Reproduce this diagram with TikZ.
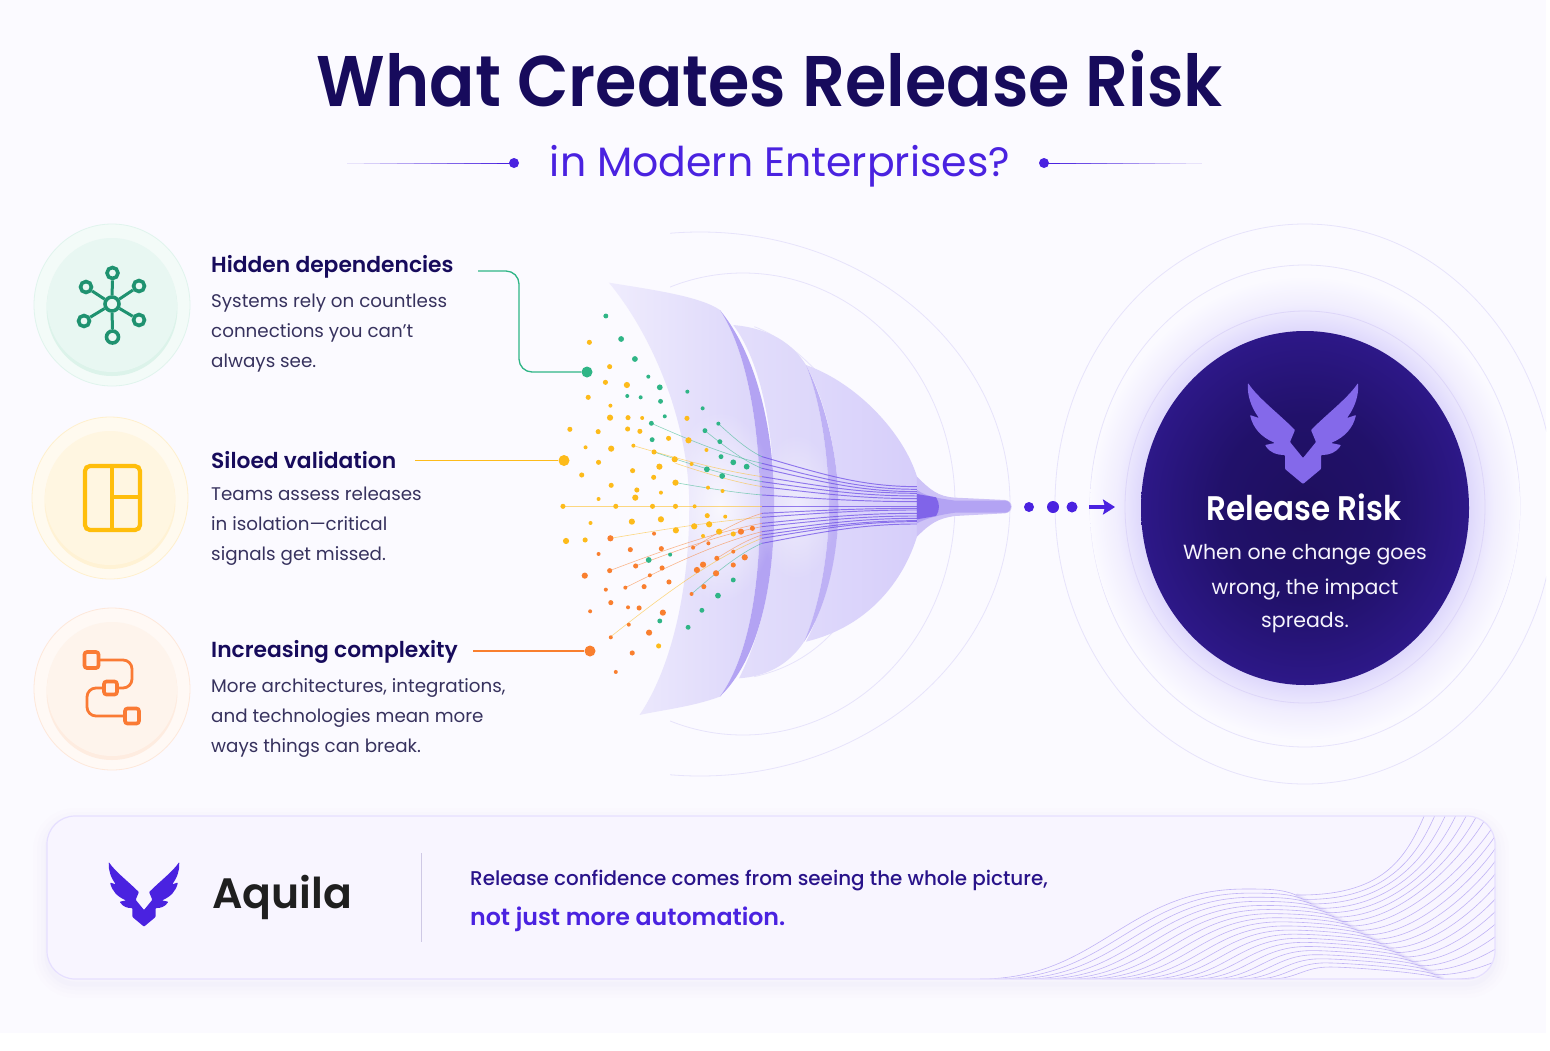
\documentclass[tikz,border=0pt]{standalone}
\usepackage{fontspec}
\usepackage{graphicx}
\setmainfont{Poppins}
\newfontfamily\psemi{Poppins SemiBold}
\newfontfamily\pmed{Poppins Medium}
\usetikzlibrary{arrows.meta,calc,fadings}
\definecolor{bgc}{HTML}{FBFAFF}
\definecolor{ink}{HTML}{170B5C}
\definecolor{bodyc}{HTML}{37325E}
\definecolor{vio}{HTML}{4A22E0}
\definecolor{viol}{HTML}{B3A3F3}
\definecolor{ringc}{HTML}{E7E3FB}
\definecolor{grn}{HTML}{1F9270}
\definecolor{grnd}{HTML}{2FB586}
\definecolor{yel}{HTML}{FDBB1B}
\definecolor{yeli}{HTML}{FFBE0B}
\definecolor{org}{HTML}{F97F2F}
\definecolor{orgd}{HTML}{FA7A34}
\definecolor{da}{HTML}{1E0F5E}
\definecolor{db}{HTML}{21116A}
\definecolor{dc}{HTML}{2D1888}
\definecolor{ga}{HTML}{C9BEFA}
\definecolor{gb}{HTML}{DED8FC}
\definecolor{gc}{HTML}{F1EEFE}
\definecolor{panelc}{HTML}{F8F5FF}
\definecolor{paneld}{HTML}{E6DFFF}
\definecolor{l1a}{HTML}{EFECFD}
\definecolor{l1b}{HTML}{DCD6FA}
\definecolor{l2a}{HTML}{E3DEFB}
\definecolor{l2b}{HTML}{DCD6FA}
\definecolor{l3a}{HTML}{DFD9FB}
\definecolor{l3b}{HTML}{D6CEFA}
\pgfdeclareradialshading{discS}{\pgfpoint{0bp}{0bp}}{color(0bp)=(da);color(13bp)=(db);color(25bp)=(dc);color(50bp)=(dc)}
\pgfdeclareradialshading{glowS}{\pgfpoint{0bp}{0bp}}{color(0bp)=(ga);color(19bp)=(gb);color(22bp)=(gc);color(25bp)=(bgc);color(50bp)=(bgc)}
\pgfdeclareradialshading{softS}{\pgfpoint{0bp}{0bp}}{color(0bp)=(white);color(24bp)=(black);color(50bp)=(black)}
\pgfdeclarefading{softout}{\pgfuseshading{softS}}
\tikzset{
  x=1pt,y=-1pt,
  titletxt/.style={anchor=west,inner sep=0pt,text=ink,font=\fontsize{21.8}{26}\psemi},
  bodytxt/.style={anchor=west,inner sep=0pt,text=bodyc,align=left,font=\fontsize{18.3}{30}\selectfont},
  ring/.style={draw=ringc,line width=.8pt},
  netnode/.style={circle,draw=grn,line width=3.6pt,fill=grnd!10!white,inner sep=0pt,minimum size=#1},
  flowbox/.style={draw=orgd,line width=3.6pt,rounded corners=2.5pt,fill=#1,inner sep=0pt},
  flowline/.style={draw=orgd,line width=2.8pt,rounded corners=9pt},
  subdot/.style={circle,fill=vio,inner sep=0pt,minimum size=10pt},
  enddot/.style={circle,fill=#1,inner sep=0pt,minimum size=11pt},
  flowdot/.style={circle,fill=vio,inner sep=0pt,minimum size=#1},
  wave/.style={draw=viol,line width=.6pt,opacity=.8},
}
\newcommand{\eaglelogo}[4]{%
\begin{scope}[shift={(#1,#2)},x=#3pt,y=-#3pt]
\fill[#4,rounded corners=.8pt] (0,75) -- (-13,59) -- (-8,47)
 .. controls (-25,30) and (-45,15) .. (-55,0)
 .. controls (-56,12) and (-52,24) .. (-44,35) -- (-53,32)
 .. controls (-50,45) and (-42,54) .. (-28,60) -- (-38,62)
 .. controls (-33,70) and (-26,72) .. (-18,72) -- (-18,86) -- (0,101)
 -- (18,86) -- (18,72)
 .. controls (26,72) and (33,70) .. (38,62) -- (28,60)
 .. controls (42,54) and (50,45) .. (53,32) -- (44,35)
 .. controls (52,24) and (56,12) .. (55,0)
 .. controls (45,15) and (25,30) .. (8,47) -- (13,59) -- cycle;
\end{scope}}
\newcommand{\badge}[6]{% cx cy outer-fill edge inner-fill shade
\fill[#3,draw=#4,line width=.8pt] (#1,#2) ellipse [x radius=78,y radius=81];
\fill[#6] (#1,#2+3) ellipse [x radius=65.5,y radius=68];
\fill[#5] (#1,#2) ellipse [x radius=65,y radius=67];
}
\newcommand{\fadeline}[3]{% from, to, colour: fades in from the first end
\foreach \t [evaluate=\t as \u using \t+.1, evaluate=\t as \o using (\t+.1)] in {0,.1,...,.95}
  {\draw[#3,line width=.9pt,opacity=\o] ($(#1)!\t!(#2)$) -- ($(#1)!\u!(#2)$);}
}
\begin{document}
\begin{tikzpicture}
\useasboundingbox (0,0) rectangle (1550,1050);
\fill[white] (0,0) rectangle (1550,1050);
\fill[bgc] (0,0) rectangle (1546,1033);
\begin{scope}
\clip (0,0) rectangle (1546,1033);
\draw[ring] (1305,504) ellipse [x radius=250,y radius=280];
\draw[ring] (1305,506) ellipse [x radius=215,y radius=241];
\shade[shading=glowS] (1305,508) ellipse [x radius=215,y radius=232];
\draw[ring,draw=ringc!80!viol] (1305,507) ellipse [x radius=180,y radius=196];
\end{scope}
\begin{scope}
\clip (670,200) rectangle (1100,800);
\draw[ring] (700,504) ellipse [x radius=310,y radius=272];
\draw[ring] (743,504) ellipse [x radius=212,y radius=231];
\end{scope}
% ---- funnel, zoom units
\begin{scope}[shift={(540,260)},x=.3827pt,y=-.3333pt]
 \draw[ring] (560,200) .. controls (700,260) and (880,500) .. (880,740) .. controls (880,1000) and (760,1200) .. (560,1250);
 % dome and neck
 \shade[left color=l3a,right color=l3b] (695,315) .. controls (830,370) and (950,520) .. (985,650) -- (985,830) .. controls (950,960) and (860,1100) .. (695,1145) .. controls (760,1000) and (780,850) .. (780,740) .. controls (780,600) and (750,430) .. (695,315) -- cycle;
 \fill[viol!65!white] (985,650) .. controls (1020,690) and (1040,710) .. (1085,713) -- (1215,720) .. controls (1238,722) and (1238,758) .. (1215,760) -- (1085,768) .. controls (1040,775) and (1020,790) .. (985,830) -- cycle;
 \fill[viol] (985,690) .. controls (1010,710) and (1040,715) .. (1085,722) -- (1215,722) .. controls (1236,724) and (1236,756) .. (1215,758) -- (1085,758) .. controls (1040,765) and (1010,775) .. (985,790) -- cycle;
 \fill[vio!70!white] (985,702) -- (1035,712) .. controls (1045,730) and (1045,750) .. (1035,768) -- (985,778) -- cycle;
 % second layer
 \shade[left color=l2a,right color=l2b] (505,195) .. controls (600,205) and (660,250) .. (695,315) .. controls (735,430) and (755,600) .. (755,740) .. controls (755,880) and (730,1040) .. (690,1145) .. controls (650,1215) and (590,1250) .. (520,1255) .. controls (580,1120) and (612,950) .. (612,740) .. controls (612,520) and (580,310) .. (505,195) -- cycle;
 \fill[viol!85!white] (695,315) .. controls (750,440) and (780,600) .. (780,740) .. controls (780,880) and (750,1040) .. (690,1145) .. controls (730,1040) and (755,880) .. (755,740) .. controls (755,600) and (735,430) .. (695,315) -- cycle;
 % first layer
 \shade[left color=l1a,right color=l1b] (180,68) .. controls (300,90) and (420,110) .. (470,150) .. controls (540,270) and (575,500) .. (575,740) .. controls (575,1000) and (540,1200) .. (470,1310) .. controls (400,1340) and (320,1350) .. (260,1365) .. controls (340,1230) and (390,1000) .. (390,740) .. controls (390,480) and (290,220) .. (180,68) -- cycle;
 \fill[viol] (470,150) .. controls (570,290) and (612,520) .. (612,740) .. controls (612,980) and (570,1200) .. (470,1310) .. controls (540,1200) and (575,1000) .. (575,740) .. controls (575,500) and (540,270) .. (470,150) -- cycle;
 % soft light where the threads run
 \fill[white,path fading=softout,opacity=.8] (470,740) ellipse [x radius=150,y radius=300];
 \fill[white,path fading=softout,opacity=.5] (670,740) ellipse [x radius=110,y radius=230];
 % converging threads
 \foreach \sx/\sy/\mx/\my/\ex/\ey/\c in {
   291/490/580/610/985/688/grnd, 244/557/580/650/985/700/yel, 298/576/580/665/985/708/grnd,
   354/668/580/705/985/725/grnd, 431/512/580/625/985/695/grnd, 60/739/580/739/985/739/yel,
   184/835/580/772/985/750/yel, 182/932/580/790/985/760/org, 250/918/580/800/985/768/org,
   223/983/580/815/985/775/org, 185/1130/580/835/985/785/yel, 396/1002/580/850/985/792/grnd,
   466/491/580/590/985/680/grnd, 400/863/580/760/985/745/org, 354/610/580/680/985/716/yel,
   462/895/580/825/985/782/org}
 {
   \draw[\c,line width=.6pt,opacity=.55] (\sx,\sy) .. controls ({\sx+(\mx-\sx)*.33},{\sy+(\my-\sy)*.4}) and ({\mx-(\mx-\sx)*.33},{\my-(\my-\sy)*.2}) .. (\mx,\my);
   \draw[vio!70!viol,line width=.95pt,opacity=.7] (\mx,\my) .. controls ({\mx+150},{\my+(\ey-\my)*.55}) and ({\ex-150},\ey) .. (\ex,\ey);
 }
 % dots
 \foreach \x/\y in {172/168,212/237,248/297,283/350,313/382,228/408,263/412,315/424,326/469,291/490,293/539,385/395,425/445,466/491,431/512,470/545,473/590,436/628,505/607,540/620,476/648,284/900,340/884,505/960,465/1007,423/1051,387/1102,313/1083}
   {\pgfmathsetmacro\r{2+mod(\x+\y,3)*.45}\fill[grnd] (\x,\y) circle [radius=\r pt];}
 \foreach \x/\y in {129/247,182/320,227/375,171/367,126/412,184/437,183/473,230/473,267/474,78/508,152/515,229/507,261/514,336/535,388/541,244/557,186/566,119/562,298/576,352/598,396/612,153/607,312/620,242/632,109/645,297/652,354/668,439/683,477/693,186/676,253/690,316/698,249/713,153/717,60/739,198/739,294/739,354/739,404/739,240/785,132/789,316/778,437/767,484/770,68/843,118/840,403/799,442/793,355/811,384/475,435/570,426/828,468/815,505/822,310/1158}
   {\pgfmathsetmacro\r{2+mod(\x+\y,3)*.55}\fill[yel] (\x,\y) circle [radius=\r pt];}
 \foreach \x/\y in {184/835,298/821,236/869,153/882,317/866,400/863,440/850,462/895,250/918,182/932,319/924,426/914,410/930,117/947,287/946,337/966,223/983,272/980,172/989,185/1028,131/1054,230/1042,259/1044,321/1058,232/1094,285/1118,185/1132,241/1179,198/1236,396/1002,428/980,505/875,535/892,555/805,525/815,505/915,460/940}
   {\pgfmathsetmacro\r{2+mod(\x+\y,3)*.55}\fill[org] (\x,\y) circle [radius=\r pt];}
\end{scope}
% ---- title
\node[inner sep=0pt,text=ink] (title) at (770,79) {\scalebox{1}[1.07]{\fontsize{67}{76}\psemi What Creates Release Risk}};
\node[inner sep=0pt,text=vio] (subtitle) at (780,166) {\fontsize{41}{46}\selectfont in Modern Enterprises?};
\node[subdot] (sdl) at (514,163) {};
\node[subdot] (sdr) at (1044,163) {};
\coordinate (sll) at (347,163);
\coordinate (slr) at (1202,163);
\fadeline{sll}{sdl}{vio}
\fadeline{slr}{sdr}{vio}
% ---- badges
\badge{112}{305}{grnd!6!white}{grnd!15!white}{grnd!11!white}{grnd!17!white}
\badge{110}{498}{yel!7!white}{yel!22!white}{yel!13!white}{yel!19!white}
\badge{112}{689}{org!5!white}{org!18!white}{org!9!white}{org!15!white}
% network icon
\node[netnode=14pt] (nc) at (112,304) {};
\node[netnode=11pt] (n1) at (112.5,273) {};
\node[netnode=11pt] (n2) at (86,287) {};
\node[netnode=11pt] (n3) at (139,286) {};
\node[netnode=11pt] (n4) at (84,321) {};
\node[netnode=11pt] (n5) at (139,320) {};
\node[netnode=12pt] (n6) at (112.5,337) {};
\foreach \n in {n1,n2,n3,n4,n5,n6} \draw[grn,line width=3pt] (nc) -- (\n);
% grid icon
\draw[yeli,line width=4.2pt,rounded corners=5pt] (85,466) rectangle (140,530);
\draw[yeli,line width=3.8pt] (112,466) -- (112,530) (112,497) -- (140,497);
% flow icon
\draw[flowline] (92,660) -- (132,660) -- (132,688) -- (110,688);
\draw[flowline] (110,688) -- (87,688) -- (87,716) -- (132,716);
\node[flowbox=orgd!10!white,minimum width=14pt,minimum height=16pt] (f1) at (91.5,660) {};
\node[flowbox=orgd!10!white,minimum width=13pt,minimum height=13pt] (f2) at (110.5,688) {};
\node[flowbox=orgd!10!white,minimum width=14pt,minimum height=15pt] (f3) at (132,716) {};
% ---- text
\node[titletxt] (h1) at (211,267) {Hidden dependencies};
\node[bodytxt] (b1) at (211,333) {Systems rely on countless\\connections you can’t\\always see.};
\node[titletxt] (h2) at (211,460) {Siloed validation};
\node[bodytxt] (b2) at (211,526) {Teams assess releases\\in isolation—critical\\signals get missed.};
\node[titletxt] (h3) at (211,652) {Increasing complexity};
\node[bodytxt] (b3) at (211,718) {More architectures, integrations,\\and technologies mean more\\ways things can break.};
% ---- connectors
\node[enddot=grnd] (d1) at (587,372) {};
\node[enddot=yel] (d2) at (564,460.5) {};
\node[enddot=org] (d3) at (590,651) {};
\coordinate (c1) at (478,271);
\coordinate (c2) at (415,460.5);
\coordinate (c3) at (473,651);
\draw[grnd,line width=1.3pt,rounded corners=13pt] (c1) -| (519,330) |- (d1);
\draw[yel,line width=1.4pt] (c2) -- (d2);
\draw[org,line width=1.4pt] (c3) -- (d3);
% ---- flow dots
\node[flowdot=10pt] (p1) at (1029,507) {};
\node[flowdot=12pt] (p2) at (1053,507) {};
\node[flowdot=11pt] (p3) at (1072,507) {};
\coordinate (a1) at (1089,507);
\coordinate (a2) at (1115,507);
\draw[vio,line width=3.4pt,-{Stealth[length=12pt,width=15pt,inset=2pt]}] (a1) -- (a2);
% ---- disc
\shade[shading=discS] (1305,508) ellipse [x radius=164,y radius=177];
\eaglelogo{1303}{383}{1}{vio!45!viol}
\node[text=white,inner sep=0pt] (rr) at (1304,507) {\scalebox{1}[1.1]{\fontsize{31}{36}\psemi Release Risk}};
\node[text=white!88!viol,inner sep=0pt] (r1) at (1305,555) {\fontsize{20.5}{24}\selectfont When one change goes};
\node[text=white!88!viol,inner sep=0pt] (r2) at (1305,589) {\fontsize{20.5}{24}\selectfont wrong, the impact};
\node[text=white!88!viol,inner sep=0pt] (r3) at (1305,623) {\fontsize{20.5}{24}\selectfont spreads.};
% ---- panel
\foreach \w/\o in {28/.012,20/.016,12/.02,5/.03}
  \draw[viol,line width=\w pt,opacity=\o,rounded corners=28pt] (47,822) rectangle (1495,984);
\path[fill=panelc,rounded corners=28pt] (47,816) rectangle (1495,979);
\begin{scope}
\clip[rounded corners=28pt] (47,816) rectangle (1495,979);
\foreach \i in {0,...,19}{
  \pgfmathsetmacro\t{\i/19}
  \pgfmathsetmacro\px{1296+147*\t}
  \pgfmathsetmacro\py{895+84*\t}
  \pgfmathsetmacro\sx{980+290*\t}
  \pgfmathsetmacro\kx{1245+85*\t}
  \pgfmathsetmacro\ky{889+78*\t}
  \draw[wave] (\sx,979) .. controls ({\sx+(\kx-\sx)*.45},979) and ({\kx-(\kx-\sx)*.45},\ky) .. (\kx,\ky) .. controls ({\kx+22},\ky) and ({\px-14},{\py-6}) .. (\px,\py);
  \pgfmathsetmacro\ex{min(1425+200*\t,1498)}
  \pgfmathsetmacro\ey{\t<.35 ? 814 : 814+(\t-.35)*245}
  \draw[wave] (\px,\py) .. controls ({\px+85-63*\t},{\py+1}) and ({\ex-20+8*\t},{\ey+44*(1-\t)+3}) .. (\ex,\ey);
}
\draw[viol,line width=5pt,opacity=.1] (1296,895) -- (1443,979);
\draw[viol,line width=2pt,opacity=.2] (1296,895) -- (1443,979);
\end{scope}
\draw[paneld,line width=1.2pt,rounded corners=28pt] (47,816) rectangle (1495,979);
\eaglelogo{144}{862}{.64}{vio}
\node[anchor=west,inner sep=0pt,text=black!88] (aq) at (212,897) {\fontsize{42.5}{48}\psemi Aquila};
\coordinate (dv1) at (421,853);
\coordinate (dv2) at (421,942);
\draw[paneld!90!black,line width=1pt] (dv1) -- (dv2);
\node[anchor=west,inner sep=0pt,text=ink!65!vio] (t1) at (470,881) {\fontsize{19.9}{24}\pmed Release confidence comes from seeing the whole picture,};
\node[anchor=west,inner sep=0pt,text=vio] (t2) at (470,919) {\fontsize{23.7}{28}\psemi not just more automation.};
\end{tikzpicture}
\end{document}
